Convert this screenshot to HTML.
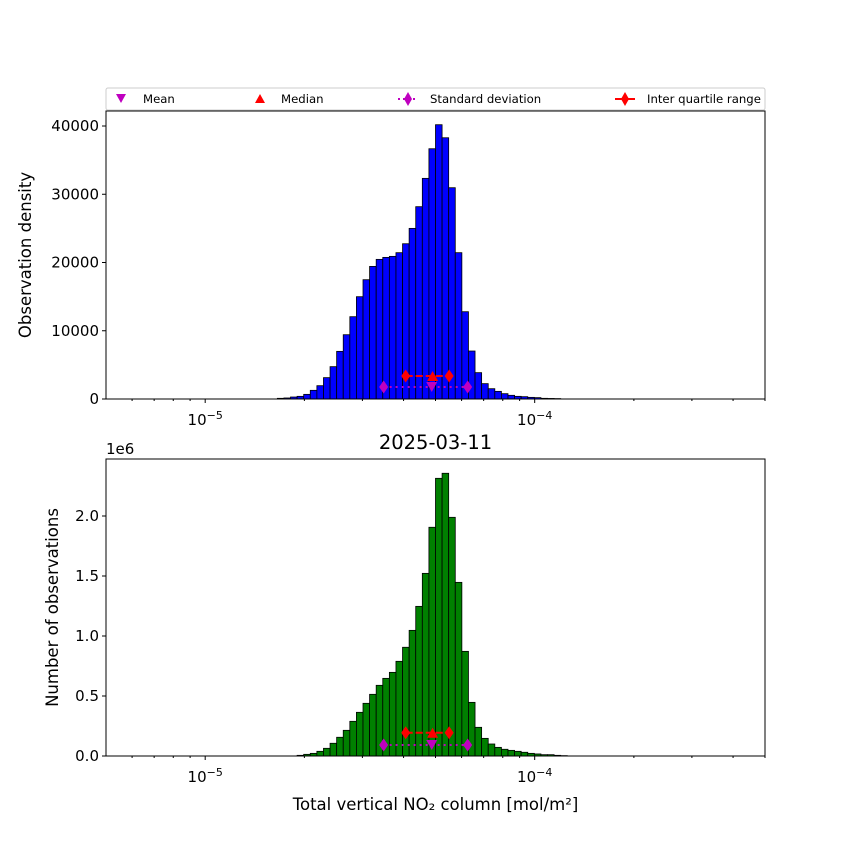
<!DOCTYPE html>
<html><head><meta charset="utf-8"><style>
body{margin:0;background:#fff}
svg text{font-family:"DejaVu Sans","Liberation Sans",sans-serif}
</style></head><body>
<svg id="c" width="850" height="850" xmlns="http://www.w3.org/2000/svg"></svg>
<script>
const binStartIndex = 26;
const topCounts = [100,150,290,390,680,1270,1950,3130,4740,6980,9420,12060,14990,17480,19430,20460,20750,20900,21440,22750,25000,28180,32330,36670,40190,38280,30960,21440,12790,7030,3860,2250,1510,1120,780,540,390,340,240,200,100,80,60];
const bottomCounts = [0,0,0,5600,13900,22000,39000,64000,106000,156000,214000,289000,364000,439000,514000,589000,647000,697000,789000,906000,1047000,1247000,1522000,1906000,2314000,2356000,1989000,1447000,872000,447000,239000,147000,100000,72000,56000,47000,39000,31000,22000,17000,11000,11000,5600,3000];
const topStats = {mean:4.87e-5, median:4.9e-5, stdLo:3.48e-5, stdHi:6.26e-5, q1:4.06e-5, q3:5.50e-5, medY:3370, stdY:1760};
const botStats = {mean:4.87e-5, median:4.9e-5, stdLo:3.48e-5, stdHi:6.26e-5, q1:4.06e-5, q3:5.50e-5, medY:194000, stdY:92000};
const topTicks = [0,10000,20000,30000,40000];
const topTickLabels = ["0","10000","20000","30000","40000"];
const botTicks = [0,0.5e6,1.0e6,1.5e6,2.0e6];
const botTickLabels = ["0.0","0.5","1.0","1.5","2.0"];

const NS="http://www.w3.org/2000/svg";
const svg=document.getElementById('c');
function mk(tag,attrs,parent,text){const e=document.createElementNS(NS,tag);for(const k in attrs)e.setAttribute(k,attrs[k]);if(text!==undefined)e.textContent=text;(parent||svg).appendChild(e);return e;}
const X0=106,X1=765,LMIN=Math.log10(5e-6),LMAX=Math.log10(5e-4);
function xs(v){return X0+(Math.log10(v)-LMIN)/(LMAX-LMIN)*(X1-X0);}
function edge(k){return Math.pow(10,LMIN+k*0.02);}

function panel(name,top,bottom,counts,color,ymax,ticks,labels,stats,ylabel,ylx){
  const g=mk('g',{});
  
  
  const ys=v=>bottom-v/ymax*(bottom-top);
  counts.forEach((c,i)=>{
    if(c<=0)return;
    const a=xs(edge(binStartIndex+i)),b=xs(edge(binStartIndex+i+1));
    const r=mk('rect',{x:a,y:ys(c),width:b-a,height:bottom-ys(c),fill:color,stroke:'#000','stroke-width':0.8},g);
    
    
  });
  const sy=ys(stats.stdY),my=ys(stats.medY);
  mk('line',{x1:xs(stats.stdLo),x2:xs(stats.stdHi),y1:sy,y2:sy,stroke:'#bf00bf','stroke-width':2,'stroke-dasharray':'2,4'},g);
  mk('line',{x1:xs(stats.q1),x2:xs(stats.q3),y1:my,y2:my,stroke:'#f00','stroke-width':2,'stroke-dasharray':'7,3'},g);
  const dia=(x,y,c,n)=>{const p=mk('path',{d:`M${x},${y-6.5}L${x+4.5},${y}L${x},${y+6.5}L${x-4.5},${y}Z`,fill:c},g);};
  dia(xs(stats.stdLo),sy,'#bf00bf','std-marker');dia(xs(stats.stdHi),sy,'#bf00bf','std-marker');
  dia(xs(stats.q1),my,'#f00','iqr-marker');dia(xs(stats.q3),my,'#f00','iqr-marker');
  let mx=xs(stats.mean);
  const mm=mk('path',{d:`M${mx-5.5},${sy-5}L${mx+5.5},${sy-5}L${mx},${sy+5}Z`,fill:'#bf00bf'},g);
  
  let dx=xs(stats.median);
  const md=mk('path',{d:`M${dx-5.5},${my+5}L${dx+5.5},${my+5}L${dx},${my-5}Z`,fill:'#f00'},g);
  
  mk('rect',{x:X0,y:top,width:X1-X0,height:bottom-top,fill:'none',stroke:'#000','stroke-width':1},g);
  ticks.forEach((t,i)=>{const y=ys(t);mk('line',{x1:X0-4,x2:X0,y1:y,y2:y,stroke:'#000'},g);
    const tl=mk('text',{x:X0-7,y:y+5,'text-anchor':'end','font-size':15},g,labels[i]);
    });
  for(let e=-6;e<=-4;e++)for(let m=1;m<=9;m++){const v=m*Math.pow(10,e);if(v<5e-6||v>5e-4)continue;const x=xs(v);
    mk('line',{x1:x,x2:x,y1:bottom,y2:bottom+(m===1?4:2),stroke:'#000'},g);
    if(m===1){const t=mk('text',{x:x,y:bottom+26,'text-anchor':'middle','font-size':15},g);
      
      mk('tspan',{},t,'10');mk('tspan',{dy:-6,'font-size':11},t,'\u2212'+(-e));}}
  const yl=mk('text',{x:ylx,y:(top+bottom)/2,'text-anchor':'middle','font-size':16.5,transform:`rotate(-90 ${ylx} ${(top+bottom)/2})`},g,ylabel);
  
}
panel('top-histogram',111,399,topCounts,'#0000ff',42200,topTicks,topTickLabels,topStats,'Observation density',31);
panel('bottom-histogram',459,756,bottomCounts,'#008000',2.475e6,botTicks,botTickLabels,botStats,'Number of observations',58);

let t=mk('text',{x:435.5,y:449,'text-anchor':'middle','font-size':19.5},svg,'2025-03-11');

t=mk('text',{x:106,y:454,'font-size':15},svg,'1e6');

t=mk('text',{x:435.5,y:810,'text-anchor':'middle','font-size':16.5},svg,'Total vertical NO\u2082 column [mol/m\u00b2]');


const lg=mk('g',{});


mk('rect',{x:106,y:88,width:659,height:22,rx:2,fill:'#fff',stroke:'#ccc'},lg);
const ly=99;
mk('path',{d:`M116,${ly-5}L126,${ly-5}L121,${ly+4}Z`,fill:'#bf00bf'},lg);
mk('path',{d:`M255,${ly+4}L265,${ly+4}L260,${ly-5}Z`,fill:'#f00'},lg);
mk('line',{x1:398,x2:418,y1:ly,y2:ly,stroke:'#bf00bf','stroke-width':2,'stroke-dasharray':'2,3'},lg);
mk('path',{d:`M408,${ly-7}L412,${ly}L408,${ly+7}L404,${ly}Z`,fill:'#bf00bf'},lg);
mk('line',{x1:615,x2:635,y1:ly,y2:ly,stroke:'#f00','stroke-width':2},lg);
mk('path',{d:`M625,${ly-7}L629,${ly}L625,${ly+7}L621,${ly}Z`,fill:'#f00'},lg);
[['Mean',143],['Median',281],['Standard deviation',430],['Inter quartile range',647]].forEach(([s,x])=>{
  const e=mk('text',{x:x,y:ly+4,'font-size':11.7},lg,s);
  
  
});
</script>
</body></html>
